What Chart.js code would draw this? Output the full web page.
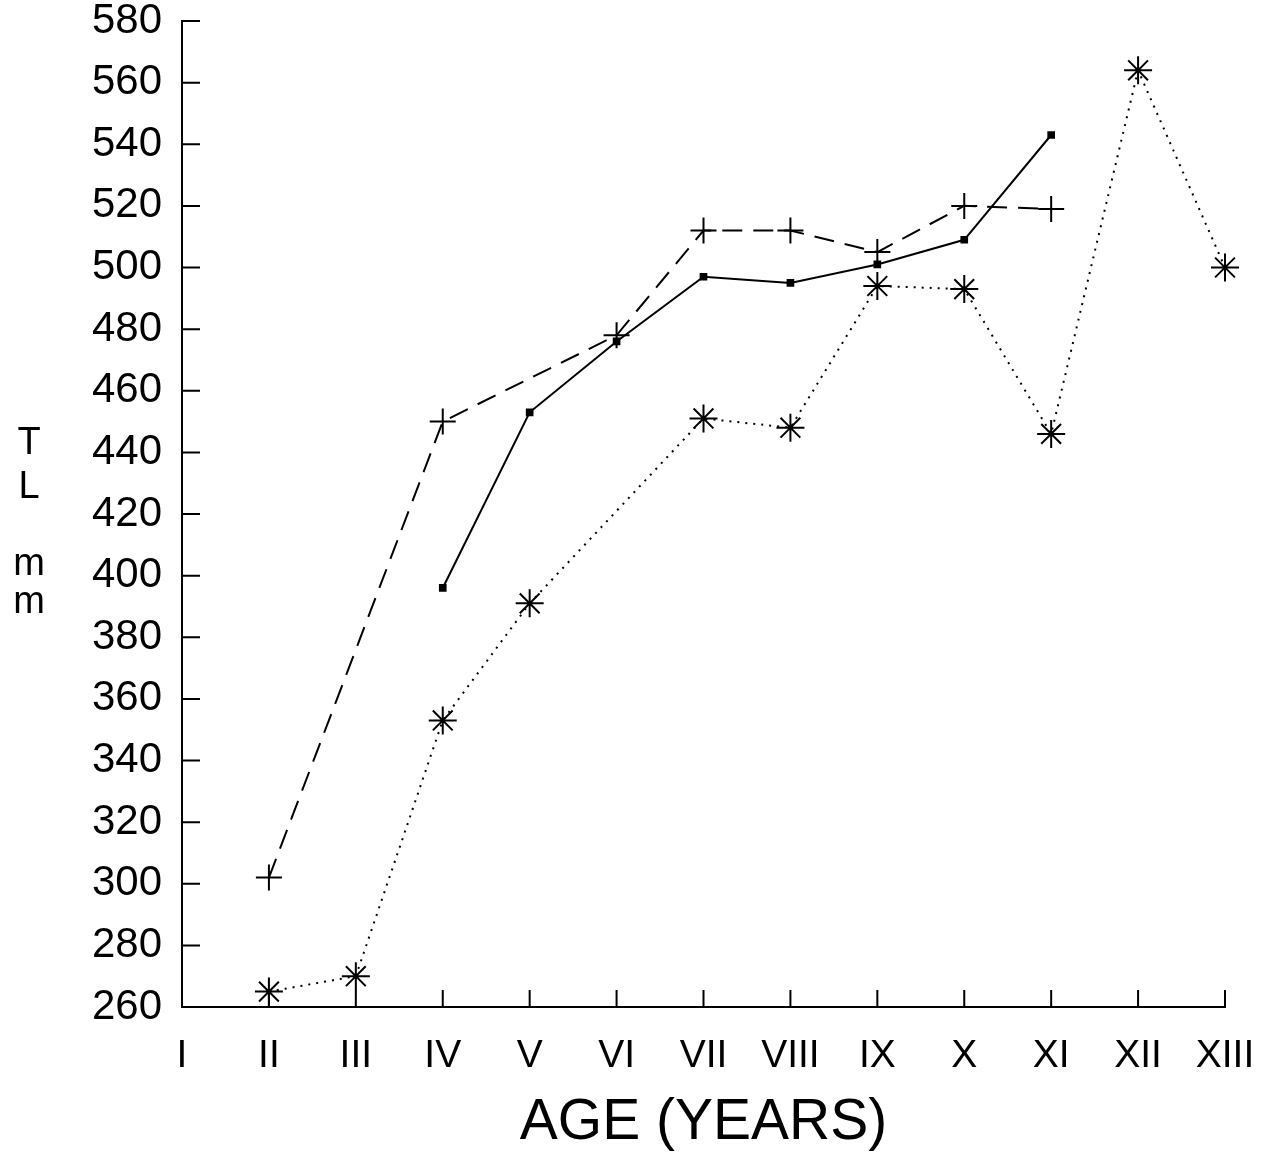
<!DOCTYPE html>
<html>
<head>
<meta charset="utf-8">
<script src="https://cdn.jsdelivr.net/npm/chart.js@4.4.1/dist/chart.umd.min.js"></script>
<style>
html, body { margin:0; padding:0; background:#fff; }
#wrap { width:1273px; height:1157px; }
</style>
</head>
<body>
<div id="wrap"><canvas id="tlChart"></canvas></div>
<script>
var ages = ["I","II","III","IV","V","VI","VII","VIII","IX","X","XI","XII","XIII"];
var yTicks = [260,280,300,320,340,360,380,400,420,440,460,480,500,520,540,560,580];

// dashed line, plus markers
var seriesPlus = [null,302,null,450,null,478,512,512,505,520,519,null,null];
// solid line, square markers
var seriesSquare = [null,null,null,396,453,476,497,495,501,509,543,null,null];
// dotted line, asterisk markers
var seriesStar = [null,265,270,353,391,null,451,448,494,493,446,564,500];

var FONT = "'Liberation Sans', Arial, sans-serif";

// small ticks pointing into the plot, and the stacked y title
var inwardTicks = {
    id: "inwardTicks",
    afterDraw: function(chart){
        var ctx = chart.ctx;
        var xs = chart.scales.x, ys = chart.scales.y;
        var area = chart.chartArea;
        ctx.save();
        ctx.strokeStyle = "#000";
        ctx.lineWidth = 2;
        ctx.beginPath();
        for(var i=0;i<xs.ticks.length;i++){
            var px = xs.getPixelForTick(i);
            ctx.moveTo(px, area.bottom);
            ctx.lineTo(px, area.bottom - 17);
        }
        for(var j=0;j<ys.ticks.length;j++){
            var py = ys.getPixelForTick(j);
            ctx.moveTo(area.left, py);
            ctx.lineTo(area.left + 18, py);
        }
        ctx.stroke();

        ctx.fillStyle = "#000";
        ctx.font = "38px " + FONT;
        ctx.textAlign = "center";
        ctx.textBaseline = "middle";
        var letters = ["T","L","m","m"];
        var ly = [444, 488, 565, 603];
        for(var k=0;k<letters.length;k++){
            ctx.fillText(letters[k], 29, ly[k]);
        }
        ctx.restore();
    }
};

var data = {
    labels: ages,
    datasets: [{
        label: "plus",
        data: seriesPlus,
        borderColor: "#000",
        borderWidth: 2,
        borderDash: [20, 11],
        pointStyle: "cross",
        pointRadius: 13,
        pointBorderWidth: 2,
        pointBorderColor: "#000",
        spanGaps: true,
        fill: false
    },{
        label: "square",
        data: seriesSquare,
        borderColor: "#000",
        borderWidth: 2,
        pointStyle: "rect",
        pointRadius: 4,
        pointBackgroundColor: "#000",
        pointBorderColor: "#000",
        spanGaps: true,
        fill: false
    },{
        label: "star",
        data: seriesStar,
        borderColor: "#000",
        borderWidth: 2,
        borderDash: [2, 6],
        pointStyle: "star",
        pointRadius: 14,
        pointBorderWidth: 2,
        pointBorderColor: "#000",
        spanGaps: true,
        fill: false
    }]
};

var chart = new Chart(document.getElementById("tlChart"), {
    type: "line",
    data: data,
    plugins: [inwardTicks],
    options: {
        responsive: true,
        maintainAspectRatio: false,
        animation: false,
        layout: { padding: { top: 21, right: 48, left: 0, bottom: 0 } },
        plugins: { legend: { display: false }, tooltip: { enabled: false } },
        elements: { line: { tension: 0 } },
        scales: {
            x: {
                offset: false,
                grid: { display: true, drawOnChartArea: false, drawTicks: false },
                border: { display: true, color: "#000", width: 2 },
                ticks: { color: "#000", font: { family: FONT, size: 39 }, padding: 26, maxRotation: 0, autoSkip: false },
                title: { display: true, text: "AGE (YEARS)", color: "#000", font: { family: FONT, size: 57 }, padding: { top: 0, bottom: 0 } },
                afterFit: function(scale){
                    scale.height = 150;
                    scale.paddingLeft = 0;
                    scale.paddingRight = 0;
                }
            },
            y: {
                min: 260,
                max: 580,
                afterBuildTicks: function(scale){
                    scale.ticks = yTicks.map(function(v){ return { value: v }; });
                },
                grid: { display: true, drawOnChartArea: false, drawTicks: false },
                border: { display: true, color: "#000", width: 2 },
                ticks: { color: "#000", font: { family: FONT, size: 42 }, padding: 20 },
                afterFit: function(scale){
                    scale.width = 182;
                    scale.paddingTop = 0;
                    scale.paddingBottom = 0;
                }
            }
        }
    }
});
</script>
</body>
</html>
